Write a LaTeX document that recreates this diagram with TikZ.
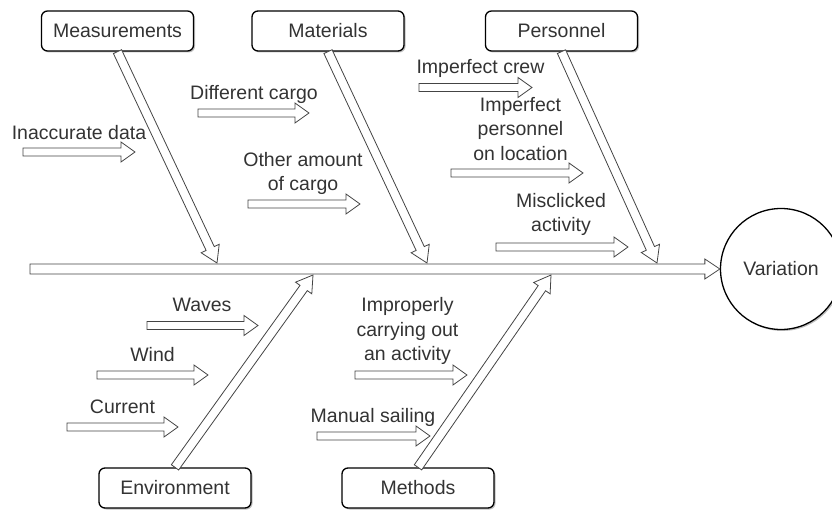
\documentclass[tikz,border=0pt]{standalone}
\usepackage{fontspec}
\setmainfont{Liberation Sans}
\usetikzlibrary{calc,shadows}

% hollow block arrow from #1 to #2: shaft half width #3, head half width #4, head length #5 (pt)
\newcommand{\blockarrow}[5]{%
  \draw[blk] let \p1=(#1), \p2=(#2),
      \n1={atan2(\y2-\y1,\x2-\x1)},
      \n2={veclen(\x2-\x1,\y2-\y1)-#5} in
    ($(\p1)+(\n1+90:#3)$)
    -- ($(\p1)+(\n1:\n2)+(\n1+90:#3)$)
    -- ($(\p1)+(\n1:\n2)+(\n1+90:#4)$)
    -- (\p2)
    -- ($(\p1)+(\n1:\n2)+(\n1-90:#4)$)
    -- ($(\p1)+(\n1:\n2)+(\n1-90:#3)$)
    -- ($(\p1)+(\n1-90:#3)$) -- cycle;}

\definecolor{ink}{HTML}{333333}
\definecolor{edge}{HTML}{444444}

\tikzset{
  x=1pt, y=-1pt,
  txt/.style={font=\fontsize{19.5}{24.5}\selectfont, text=ink},
  cat/.style={txt, draw=black, line width=1.3pt, rounded corners=6pt, fill=white,
    minimum width=152pt, minimum height=40pt, inner sep=0pt,
    drop shadow={shadow xshift=1.5pt, shadow yshift=-1.5pt, opacity=0.25, fill=black}},
  lbl/.style={txt, align=center, inner sep=0pt},
  blk/.style={draw=edge, line width=0.8pt, fill=white, line join=miter},
}

\begin{document}
\begin{tikzpicture}
\useasboundingbox (0,0) rectangle (832,510);
\clip (0,0) rectangle (832,510);

% effect
\node[txt, circle, draw=black, line width=1.3pt, fill=white, minimum size=121pt, inner sep=0pt,
  drop shadow={shadow xshift=1.5pt, shadow yshift=-1.5pt, opacity=0.25, fill=black}]
  (var) at (781,269) {Variation};

% categories
\node[cat] (meas) at (117.5,31) {Measurements};
\node[cat] (mat)  at (328,31)   {Materials};
\node[cat] (pers) at (561.5,31) {Personnel};
\node[cat] (env)  at (175,488)  {Environment};
\node[cat] (meth) at (418,488)  {Methods};

% spine
\coordinate (tail) at (30,269);
\blockarrow{tail}{var.west}{5pt}{10pt}{15}

% bones ending on the spine
\coordinate (jmeas) at (217,263);
\coordinate (jmat)  at (427,263);
\coordinate (jpers) at (657,263);
\coordinate (jenv)  at (313,275);
\coordinate (jmeth) at (551,275);
\blockarrow{meas.south}{jmeas}{4.5pt}{10pt}{16}
\blockarrow{mat.south}{jmat}{4.5pt}{10pt}{16}
\blockarrow{pers.south}{jpers}{4.5pt}{10pt}{16}
\blockarrow{env.north}{jenv}{4.5pt}{10pt}{16}
\blockarrow{meth.north}{jmeth}{4.5pt}{10pt}{16}

% causes
\node[lbl] (c1)  at (79,133)    {Inaccurate data};
\node[lbl] (c2)  at (254,94)    {Different cargo};
\node[lbl] (c3)  at (303,173.5) {Other amount\\of cargo};
\node[lbl] (c4)  at (480.5,68)  {Imperfect crew};
\node[lbl] (c5)  at (520.5,129) {Imperfect\\personnel\\on location};
\node[lbl] (c6)  at (561,214.5) {Misclicked\\activity};
\node[lbl] (c7)  at (202,305)   {Waves};
\node[lbl] (c8)  at (152.5,355) {Wind};
\node[lbl] (c9)  at (122.5,407) {Current};
\node[lbl] (c10) at (407.5,331) {Improperly\\carrying out\\an activity};
\node[lbl] (c11) at (373,417)   {Manual sailing};

% cause arrows
\coordinate (a1s)  at (23,152);    \coordinate (a1e)  at (135,152);
\coordinate (a2s)  at (198,113);   \coordinate (a2e)  at (309,113);
\coordinate (a3s)  at (248,204);   \coordinate (a3e)  at (360,204);
\coordinate (a4s)  at (419,87.5);  \coordinate (a4e)  at (532,87.5);
\coordinate (a5s)  at (451,173);   \coordinate (a5e)  at (583,173);
\coordinate (a6s)  at (496,247);   \coordinate (a6e)  at (628,247);
\coordinate (a7s)  at (147,325.5); \coordinate (a7e)  at (258,325.5);
\coordinate (a8s)  at (97,375);    \coordinate (a8e)  at (208,375);
\coordinate (a9s)  at (67,427);    \coordinate (a9e)  at (178,427);
\coordinate (a10s) at (355,375);   \coordinate (a10e) at (467,375);
\coordinate (a11s) at (317,436);   \coordinate (a11e) at (430,436);
\foreach \k in {1,...,11}{\blockarrow{a\k s}{a\k e}{4pt}{10pt}{14}}
\end{tikzpicture}
\end{document}
